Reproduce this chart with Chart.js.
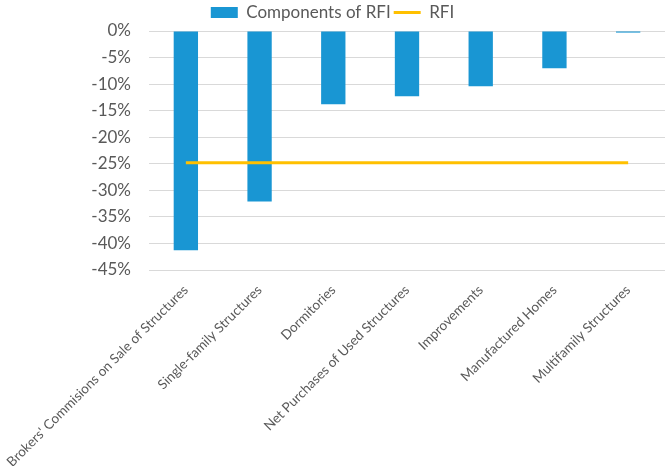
<!DOCTYPE html>
<html>
<head>
<meta charset="utf-8">
<script src="https://cdn.jsdelivr.net/npm/chart.js@4.4.0/dist/chart.umd.min.js"></script>
<style>
  html, body { margin: 0; padding: 0; background: #fff; }
  #wrap { width: 669px; height: 466px; }
</style>
</head>
<body>
<div id="wrap"><canvas id="rfiChart" width="669" height="466"></canvas></div>
<script>
// categories and values (percent)
const components = [
  "Brokers' Commisions on Sale of Structures",
  'Single-family Structures',
  'Dormitories',
  'Net Purchases of Used Structures',
  'Improvements',
  'Manufactured Homes',
  'Multifamily Structures'
];
const componentValues = [-41.3, -32.1, -13.8, -12.3, -10.4, -7.0, -0.3];
const rfiValue = -24.8;
const rfiLine = components.map(() => rfiValue);
const yTicks = [0, -5, -10, -15, -20, -25, -30, -35, -40, -45];

const grey = '#595959';

let ctx = document.getElementById('rfiChart').getContext('2d');
let rfiChart = new Chart(ctx, {
  data: {
    labels: components,
    datasets: [{
      type: 'bar',
      label: 'Components of RFI',
      data: componentValues,
      backgroundColor: '#1996d3',
      borderWidth: 0,
      categoryPercentage: 1,
      barPercentage: 0.33,
      order: 1
    },
    {
      // lower order draws on top of the bars
      type: 'line',
      label: 'RFI',
      data: rfiLine,
      borderColor: '#ffc000',
      backgroundColor: '#ffc000',
      borderWidth: 3,
      pointRadius: 0,
      fill: false,
      order: 0
    }]
  },
  options: {
    responsive: false,
    animation: false,
    layout: { padding: { top: 1, right: 4, left: 0, bottom: 0 } },
    plugins: {
      tooltip: { enabled: false },
      legend: {
        position: 'top',
        labels: {
          color: grey,
          font: { family: 'Lato', size: 17 },
          usePointStyle: true,
          pointStyleWidth: 27,
          boxHeight: 11,
          padding: 3,
          sort: (a, b) => a.datasetIndex - b.datasetIndex,
          generateLabels: function(chart) {
            let items = Chart.defaults.plugins.legend.labels.generateLabels(chart);
            items.forEach(item => {
              item.pointStyle = item.datasetIndex === 0 ? 'rect' : 'line';
            });
            return items;
          }
        }
      }
    },
    scales: {
      x: {
        grid: { display: false },
        border: { display: false },
        ticks: {
          color: grey,
          font: { family: 'Lato', size: 13.5 },
          minRotation: 45,
          maxRotation: 45,
          autoSkip: false,
          padding: 4
        },
        afterFit: function(scale) {
          // let the long first label run off the left edge
          scale.paddingLeft = 0;
          scale.paddingRight = 0;
          scale.height = 196;
        }
      },
      y: {
        min: -45,
        max: 0,
        afterBuildTicks: function(scale) {
          scale.ticks = yTicks.map(v => ({ value: v }));
        },
        grid: { color: '#d9d9d9', lineWidth: 1, drawTicks: false },
        border: { display: false },
        ticks: {
          color: grey,
          font: { family: 'Lato', size: 17 },
          padding: 18,
          callback: function(value) { return value + '%'; }
        },
        afterFit: function(scale) {
          scale.width = 149;
          scale.paddingTop = 0;
          scale.paddingBottom = 0;
        }
      }
    }
  }
});
</script>
</body>
</html>
